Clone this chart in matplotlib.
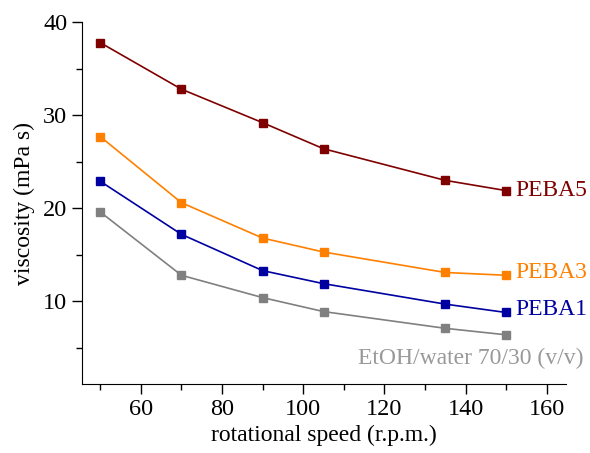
"""
Viscosity vs rotational speed for PEBA solutions
"""
import matplotlib
matplotlib.use("Agg")
import matplotlib.pyplot as plt
from matplotlib.ticker import MultipleLocator

speed = [50, 70, 90, 105, 135, 150]
peba5 = [37.8, 32.8, 29.2, 26.4, 23.0, 21.9]
peba3 = [27.7, 20.6, 16.8, 15.3, 13.1, 12.8]
peba1 = [22.9, 17.2, 13.3, 11.9, 9.7, 8.8]
solvent = [19.6, 12.8, 10.4, 8.9, 7.1, 6.4]

names = ["PEBA5", "PEBA3", "PEBA1", "EtOH/water 70/30 (v/v)"]
colours = ["#7f0000", "#ff8000", "#0000a0", "#808080"]


def plot():
    plt.rcParams["font.family"] = ["Liberation Serif", "DejaVu Serif"]
    fig = plt.figure(figsize=(5.9, 4.53), dpi=100)
    ax = fig.add_axes([0.139, 0.152, 0.82, 0.799])

    series = [peba5, peba3, peba1, solvent]
    for vals, name, col in zip(series, names, colours):
        ax.plot(speed, vals, "-s", color=col, lw=1.2, ms=5.5, mec=col)

    # labels at the end of each curve
    ax.text(152.3, peba5[-1], names[0], color=colours[0], fontsize=17,
            va="center", ha="left")
    ax.text(152.3, peba3[-1] + 0.3, names[1], color=colours[1], fontsize=17,
            va="center", ha="left")
    ax.text(152.3, peba1[-1] + 0.3, names[2], color=colours[2], fontsize=17,
            va="center", ha="left")
    ax.text(169, solvent[-1] - 2.5, names[3], color="#999999", fontsize=17,
            va="center", ha="right")

    ax.set_xlim(45.5, 164.7)
    ax.set_ylim(1.1, 40)
    ax.xaxis.set_major_locator(MultipleLocator(20))
    ax.yaxis.set_major_locator(MultipleLocator(10))
    ax.yaxis.set_minor_locator(MultipleLocator(5))
    ax.set_xticks([50, 70, 90, 110, 130, 150], minor=True)

    for side in ["top", "right"]:
        ax.spines[side].set_visible(False)
    ax.tick_params(which="major", direction="out", length=7, width=1,
                   labelsize=17.5)
    ax.tick_params(which="minor", direction="out", length=4, width=1)

    ax.set_xlabel("rotational speed (r.p.m.)", fontsize=17, labelpad=4)
    ax.set_ylabel("viscosity (mPa s)", fontsize=17, labelpad=6)

    fig.savefig("out.png", dpi=100)


if __name__ == "__main__":
    plot()
